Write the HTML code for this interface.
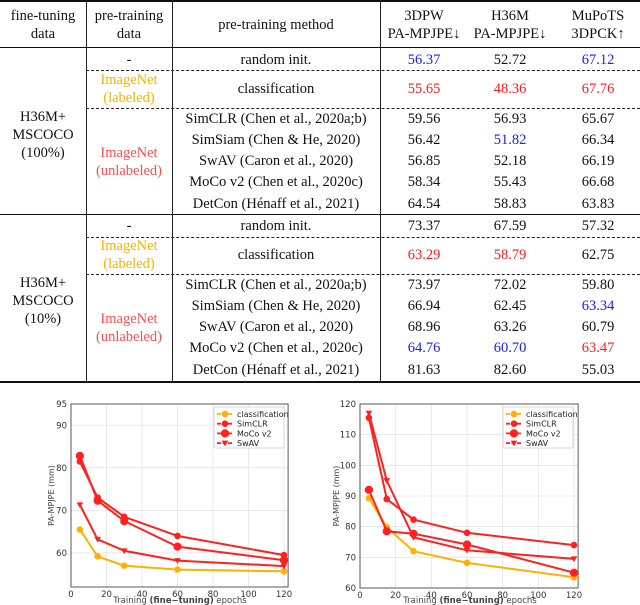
<!DOCTYPE html>
<html><head><meta charset="utf-8">
<style>
body{margin:0;width:640px;height:605px;background:#fff;position:relative;overflow:hidden;font-family:"Liberation Serif",serif;}
.t{position:absolute;font-size:14.5px;color:#111;white-space:nowrap;transform:translate(-50%,-50%);line-height:1;}
.hl{position:absolute;background:#111;height:1px;}
.dl{position:absolute;border-top:1px dashed #222;height:0;}
.vl{position:absolute;background:#222;width:1px;}
.b{color:#1a1aff}.r{color:#ff1a1a}.y{color:#f5b400}.p{color:#ff4d4d}
svg{position:absolute;left:0;top:390px}
</style></head><body>
<div>
<div class="hl" style="left:0;width:640px;top:0;height:2px"></div>
<div class="hl" style="left:0;width:640px;top:47px"></div>
<div class="hl" style="left:0;width:640px;top:214px"></div>
<div class="hl" style="left:0;width:640px;top:381px;height:2px"></div>
<div class="vl" style="left:86px;top:2px;height:379px"></div>
<div class="vl" style="left:172px;top:2px;height:379px"></div>
<div class="vl" style="left:380px;top:2px;height:379px"></div>
<div class="dl" style="left:86px;width:554px;top:70px"></div>
<div class="dl" style="left:86px;width:554px;top:108px"></div>
<div class="dl" style="left:86px;width:554px;top:237px"></div>
<div class="dl" style="left:86px;width:554px;top:274px"></div>

<div class="t" style="left:43px;top:16px">fine-tuning</div>
<div class="t" style="left:43px;top:34px">data</div>
<div class="t" style="left:129px;top:16px">pre-training</div>
<div class="t" style="left:129px;top:34px">data</div>
<div class="t" style="left:276px;top:25px">pre-training method</div>
<div class="t" style="left:424px;top:16px">3DPW</div>
<div class="t" style="left:424px;top:34px">PA-MPJPE↓</div>
<div class="t" style="left:510px;top:16px">H36M</div>
<div class="t" style="left:510px;top:34px">PA-MPJPE↓</div>
<div class="t" style="left:598px;top:16px">MuPoTS</div>
<div class="t" style="left:598px;top:34px">3DPCK↑</div>
</div>
<div id="rows"></div>

<svg id="charts" width="640" height="215"></svg>

<script>
// ---- table data ----
const methods=["random init.","classification","SimCLR (Chen et al., 2020a;b)","SimSiam (Chen & He, 2020)","SwAV (Caron et al., 2020)","MoCo v2 (Chen et al., 2020c)","DetCon (Hénaff et al., 2021)"];
const block1=[["56.37b","52.72","67.12b"],["55.65r","48.36r","67.76r"],["59.56","56.93","65.67"],["56.42","51.82b","66.34"],["56.85","52.18","66.19"],["58.34","55.43","66.68"],["64.54","58.83","63.83"]];
const block2=[["73.37","67.59","57.32"],["63.29r","58.79r","62.75"],["73.97","72.02","59.80"],["66.94","62.45","63.34b"],["68.96","63.26","60.79"],["64.76b","60.70b","63.47r"],["81.63","82.60","55.03"]];
const rowY1=[60,89,119,140,161,182,204];
const rowY2=[226,255,285,306,327,348,370];
(function(){
  const host=document.getElementById('rows');
  function add(txt,x,y,cls,name){
    const d=document.createElement('div');
    d.className='t '+(cls||'');
    d.style.left=x+'px';d.style.top=y+'px';d.textContent=txt;
    
    
    host.appendChild(d);
  }
  const cx=[424,510,598];
  [[block1,rowY1],[block2,rowY2]].forEach(([blk,ys],bi)=>{
    methods.forEach((m,i)=>{
      add(m,276,ys[i],'', 'method-cell');
      blk[i].forEach((v,j)=>{
        const c=v.slice(-1); let cls='',txt=v;
        if(c==='b'||c==='r'){cls=c;txt=v.slice(0,-1);}
        add(txt,cx[j],ys[i],cls,'value-cell');
      });
    });
    add('-',129,ys[0],'','pretrain-none');
    add('ImageNet',129,ys[1]-9,'y','pretrain-labeled');
    add('(labeled)',129,ys[1]+9,'y','pretrain-labeled');
    const mu=(ys[2]+ys[6])/2;
    add('ImageNet',129,mu-9,'p','pretrain-unlabeled');
    add('(unlabeled)',129,mu+9,'p','pretrain-unlabeled');
    const mm=(ys[0]+ys[6])/2+3;
    add('H36M+',43,mm-18,'','finetune-data');
    add('MSCOCO',43,mm,'','finetune-data');
    add(bi===0?'(100%)':'(10%)',43,mm+18,'','finetune-data');
  });
})();

// ---- chart data ----
const epochs=[5,15,30,60,120];
const seriesNames=["classification","SimCLR","MoCo v2","SwAV"];
const leftClassification=[65.5,59.2,57.0,56.1,55.7];
const leftSimCLR=[81.5,73.0,68.5,64.0,59.5];
const leftMoCo=[82.8,72.3,67.5,61.5,58.3];
const leftSwAV=[71.3,63.2,60.5,58.2,56.9];
const rightClassification=[89.3,79.8,72.0,68.2,63.5];
const rightSimCLR=[115.5,89.0,82.3,78.0,74.0];
const rightMoCo=[92.0,78.5,77.7,74.2,65.0];
const rightSwAV=[117.0,95.0,76.5,72.3,69.5];
const xTicks=[0,20,40,60,80,100,120];
const leftYTicks=[60,70,80,90,95];
const rightYTicks=[60,70,80,90,100,110,120];

(function(){
  const svg=document.getElementById('charts');
  const NS='http://www.w3.org/2000/svg';
  const OY=390;
  function el(tag,attrs,parent){const e=document.createElementNS(NS,tag);for(const k in attrs)e.setAttribute(k,attrs[k]);(parent||svg).appendChild(e);return e;}
  const colors=["#ffb000","#ff2020","#ff2020","#ff2020"];
  const shapes=["circle","circle","oct","tri"];
  function marker(g,shape,x,y,c){
    let m;
    if(shape==='circle') m=el('circle',{cx:x,cy:y,r:3.3,fill:c},g);
    else if(shape==='oct'){const r=4.3,pts=[];for(let k=0;k<8;k++){const a=Math.PI/8+k*Math.PI/4;pts.push((x+r*Math.cos(a)).toFixed(1)+','+(y+r*Math.sin(a)).toFixed(1));}m=el('polygon',{points:pts.join(' '),fill:c},g);}
    else m=el('polygon',{points:`${x-3.3},${y-2.5} ${x+3.3},${y-2.5} ${x},${y+3.3}`,fill:c},g);
    
    
  }
  function chart(name,x0,x120,top,bottom,yTop,yBot,yTicks,series,xlabX,ylabX,legX){
    const g=el('g',{});
    
    
    const sx=v=>x0+(x120-x0)*v/120;
    const sy=v=>(top-OY)+((bottom-OY)-(top-OY))*(yTop-v)/(yTop-yBot);
    const right=sx(122.3), t=top-OY, b=bottom-OY;
    xTicks.forEach(v=>{
      el('line',{x1:sx(v),x2:sx(v),y1:t,y2:b,stroke:'#e4e4e4','stroke-width':0.8},g);
      const tl=el('text',{x:sx(v),y:b+10,'font-size':8.5,'text-anchor':'middle',fill:'#333','font-family':'DejaVu Sans, sans-serif'},g);
      tl.textContent=v;
      
      
    });
    yTicks.forEach(v=>{
      el('line',{x1:sx(0),x2:right,y1:sy(v),y2:sy(v),stroke:'#e4e4e4','stroke-width':0.8},g);
      const tl=el('text',{x:sx(0)-4,y:sy(v)+3,'font-size':8.5,'text-anchor':'end',fill:'#333','font-family':'DejaVu Sans, sans-serif'},g);
      tl.textContent=v;
      
      
    });
    el('rect',{x:sx(0),y:t,width:right-sx(0),height:b-t,fill:'none',stroke:'#333','stroke-width':0.8},g);
    series.forEach((s,i)=>{
      const pts=epochs.map((e,k)=>sx(e).toFixed(1)+','+sy(s[k]).toFixed(1)).join(' ');
      const pl=el('polyline',{points:pts,fill:'none',stroke:colors[i],'stroke-width':2},g);
      
      
      epochs.forEach((e,k)=>marker(g,shapes[i],sx(e),sy(s[k]),colors[i]));
    });
    const lg=el('g',{},g);
    
    
    el('rect',{x:legX,y:17,width:70,height:41,fill:'#fff',stroke:'#ccc','stroke-width':0.8,rx:1.5},lg);
    seriesNames.forEach((n,i)=>{
      const y=24+i*9.7;
      el('line',{x1:legX+3,x2:legX+19,y1:y,y2:y,stroke:colors[i],'stroke-width':1.8,'stroke-dasharray':'4,1.5'},lg);
      marker(lg,shapes[i],legX+11,y,colors[i]);
      const tx=el('text',{x:legX+23,y:y+3,'font-size':8,fill:'#222','font-family':'DejaVu Sans, sans-serif'},lg);
      tx.textContent=n;
      
      
    });
    const xl=el('text',{x:xlabX,y:213,'font-size':8.5,'text-anchor':'middle',fill:'#444','font-family':'DejaVu Sans, sans-serif'},g);
    xl.innerHTML='Training <tspan font-weight="bold">(fine−tuning)</tspan> epochs';
    
    
    const yl=el('text',{x:0,y:0,'font-size':8,'text-anchor':'middle',fill:'#444','font-family':'DejaVu Sans, sans-serif',transform:`translate(${ylabX},${(t+b)/2}) rotate(-90)`},g);
    yl.textContent='PA-MPJPE (mm)';
    
    
  }
  chart('left-chart',71,284,404,587,95,52,leftYTicks,[leftClassification,leftSimCLR,leftMoCo,leftSwAV],180,54,214);
  chart('right-chart',360,574,404,588,120,60,rightYTicks,[rightClassification,rightSimCLR,rightMoCo,rightSwAV],470,339,503);
})();
</script>
</body></html>
